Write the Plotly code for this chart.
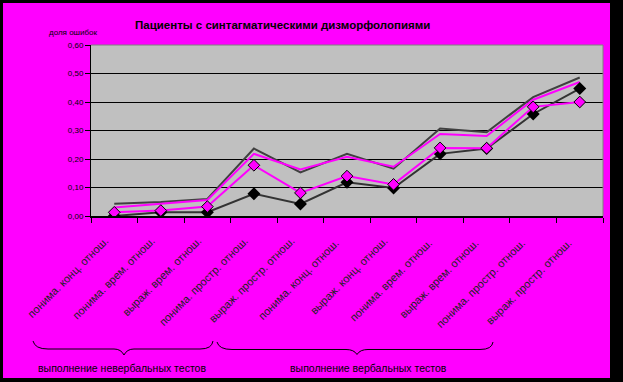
import plotly.graph_objects as go

categories = [
    "понима. конц. отнош.", "понима. врем. отнош.", "выраж. врем. отнош.",
    "понима. простр. отнош.", "выраж. простр. отнош.",
    "понима. конц. отнош. ", "выраж. конц. отнош.", "понима. врем. отнош. ",
    "выраж. врем. отнош. ", "понима. простр. отнош. ", "выраж. простр. отнош. ",
]
series_a = [0.043, 0.049, 0.060, 0.237, 0.153, 0.218, 0.166, 0.307, 0.294, 0.417, 0.486]
series_b = [0.030, 0.042, 0.056, 0.218, 0.163, 0.208, 0.173, 0.288, 0.281, 0.408, 0.470]
series_c = [0.013, 0.019, 0.033, 0.178, 0.081, 0.140, 0.111, 0.239, 0.238, 0.383, 0.400]
series_d = [0.000, 0.013, 0.013, 0.078, 0.042, 0.118, 0.098, 0.218, 0.237, 0.358, 0.447]
y_ticks = [0.0, 0.1, 0.2, 0.3, 0.4, 0.5, 0.6]

W, H = 623, 382
L, R, T, B = 91, 20, 45, 166
PW, PH = W - L - R, H - T - B
MAG = "#FF00FF"
FONT = "Liberation Sans"


def px(x):
    return (x - L) / PW


def py(y):
    return (H - B - y) / PH


fig = go.Figure()
fig.add_trace(go.Scatter(x=categories, y=series_a, mode="lines",
                         line=dict(color="#404040", width=2), showlegend=False))
fig.add_trace(go.Scatter(x=categories, y=series_b, mode="lines",
                         line=dict(color=MAG, width=2), showlegend=False))
fig.add_trace(go.Scatter(x=categories, y=series_d, mode="lines+markers",
                         line=dict(color="#333333", width=2),
                         marker=dict(symbol="diamond", size=10, color="black"),
                         showlegend=False))
fig.add_trace(go.Scatter(x=categories, y=series_c, mode="lines+markers",
                         line=dict(color=MAG, width=2),
                         marker=dict(symbol="diamond", size=9, color=MAG,
                                     line=dict(color="black", width=1)),
                         showlegend=False))

shapes = []
# black frame
for (x0, y0, x1, y1) in [(0, 0, 3, H), (0, 0, W, 3), (610, 0, W, H), (0, 378, W, H)]:
    shapes.append(dict(type="rect", xref="paper", yref="paper",
                       x0=px(x0), x1=px(x1), y0=py(y0), y1=py(y1),
                       fillcolor="black", line=dict(width=0), layer="above"))
# plot-area top and right border (gray)
shapes.append(dict(type="line", xref="paper", yref="paper", x0=0, x1=1, y0=1, y1=1,
                   line=dict(color="#808080", width=1), layer="above"))
shapes.append(dict(type="line", xref="paper", yref="paper", x0=1, x1=1, y0=0, y1=1,
                   line=dict(color="#808080", width=1), layer="above"))


def brace(pts):
    s = ""
    for cmd, coords in pts:
        s += cmd + " " + " ".join(f"{px(a):.5f},{py(b):.5f}" for a, b in coords) + " "
    return s.strip()


b1 = brace([
    ("M", [(33, 341)]), ("Q", [(35, 349), (48, 349)]), ("L", [(114, 349)]),
    ("Q", [(121, 349), (124, 355)]), ("Q", [(127, 349), (134, 349)]),
    ("L", [(200, 349)]), ("Q", [(212, 349), (213, 341)]),
])
b2 = brace([
    ("M", [(217, 342)]), ("Q", [(219, 349.5), (232, 349.5)]), ("L", [(346, 349.5)]),
    ("Q", [(354, 349.5), (357, 354.5)]), ("Q", [(360, 349.5), (368, 349.5)]),
    ("L", [(480, 349.5)]), ("Q", [(492, 349.5), (493, 342)]),
])
for p in (b1, b2):
    shapes.append(dict(type="path", xref="paper", yref="paper", path=p,
                       line=dict(color="black", width=1)))

annotations = [
    dict(text="<b>Пациенты с синтагматическими дизморфолопиями</b>", xref="paper", yref="paper",
         x=px(282), y=py(25), showarrow=False, font=dict(family=FONT, size=11.5, color="black"),
         xanchor="center", yanchor="middle"),
    dict(text="доля ошибок", xref="paper", yref="paper", x=px(73), y=py(32),
         showarrow=False, font=dict(family=FONT, size=8, color="black"),
         xanchor="center", yanchor="middle"),
    dict(text="выполнение невербальных тестов", xref="paper", yref="paper",
         x=px(122), y=py(368), showarrow=False,
         font=dict(family=FONT, size=10.5, color="black"), xanchor="center", yanchor="middle"),
    dict(text="выполнение вербальных тестов", xref="paper", yref="paper",
         x=px(368), y=py(368), showarrow=False,
         font=dict(family=FONT, size=10.5, color="black"), xanchor="center", yanchor="middle"),
]

fig.update_layout(
    width=W, height=H,
    margin=dict(l=L, r=R, t=T, b=B, autoexpand=False),
    paper_bgcolor=MAG, plot_bgcolor="#C0C0C0",
    separators=", ",
    shapes=shapes, annotations=annotations,
    font=dict(family=FONT, color="black"),
)
fig.update_xaxes(
    type="category", tickson="boundaries", ticks="outside", ticklen=5, tickcolor="black",
    showline=True, linecolor="black", linewidth=2, showgrid=False, tickangle=-45,
    tickfont=dict(family=FONT, size=11, color="#202020"), automargin=False,
    ticklabelstandoff=12, ticklabelshift=-9,
    range=[-0.5, len(categories) - 0.5],
)
fig.update_yaxes(
    range=[0, 0.6], tickvals=y_ticks, tickformat=".2f", ticks="outside", ticklen=5,
    tickcolor="black", showline=True, linecolor="black", linewidth=1,
    showgrid=True, gridcolor="black", gridwidth=1, zeroline=False,
    tickfont=dict(family=FONT, size=8, color="black"), automargin=False,
)

fig.write_html("out.html")
